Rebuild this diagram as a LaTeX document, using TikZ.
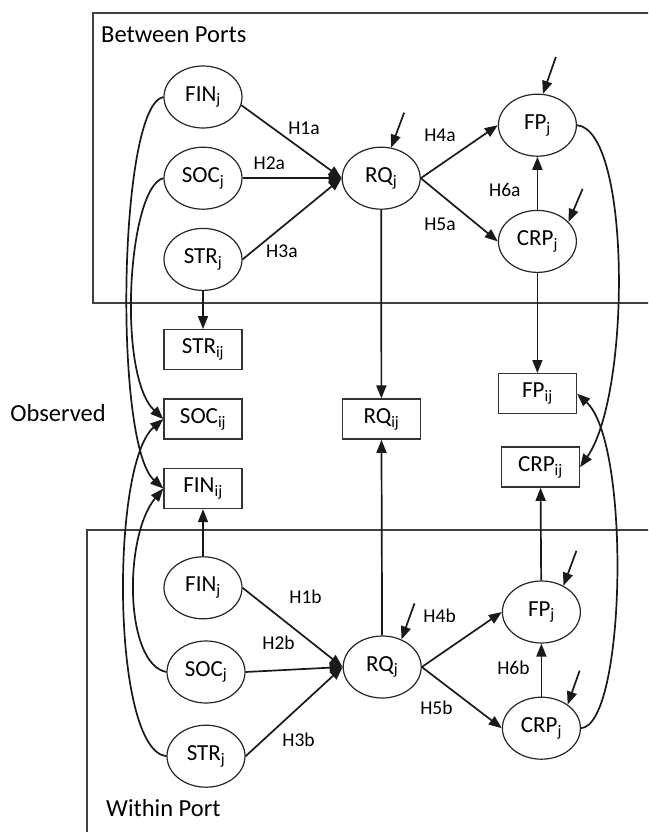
\documentclass[tikz,border=0pt]{standalone}
\usepackage{fontspec}
\setmainfont{Carlito}
\usetikzlibrary{positioning,arrows.meta,shapes.geometric}
\tikzset{
  lv/.style={ellipse, draw=black!85, line width=1.2pt, minimum width=78pt, minimum height=62pt,
             inner sep=0pt, font=\fontsize{23}{26}\selectfont},
  ob/.style={rectangle, draw=black!80, line width=1.4pt, minimum width=78pt, minimum height=40pt,
             inner sep=0pt, font=\fontsize{23}{26}\selectfont},
  flow/.style={-{Triangle[length=13pt,width=10pt]}, line width=1.7pt, draw=black!90},
  hlab/.style={font=\fontsize{19.5}{22}\selectfont, inner sep=2pt},
  ttl/.style={font=\fontsize{24.5}{28}\selectfont, inner sep=0pt},
  frame/.style={draw=black!75, line width=1.1pt},
}
\begin{document}
\begin{tikzpicture}[x=1pt,y=-1pt]
  \useasboundingbox (0,0) rectangle (648,832);
  \clip (0,0) rectangle (648,832);
  % frames
  \draw[frame] (93,13) rectangle (700,303);
  \draw[frame] (87,530) rectangle (700,900);
  \node[ttl, anchor=west] (tBetween) at (101,35) {Between Ports};
  \node[ttl, anchor=west] (tWithin) at (106,808) {Within Port};
  \node[ttl] (tObs) at (58,413) {Observed};
  % between ports
  \node[lv] (FINt) at (203,97) {FIN\textsubscript{j}};
  \node[lv, below=18pt of FINt] (SOCt) {SOC\textsubscript{j}};
  \node[lv, below=18pt of SOCt] (STRt) {STR\textsubscript{j}};
  \node[lv, right=99pt of SOCt] (RQt) {RQ\textsubscript{j}};
  \node[lv, right=77pt of RQt, yshift=53pt] (FPt) {FP\textsubscript{j}};
  \node[lv, below=53pt of FPt] (CRPt) {CRP\textsubscript{j}};
  % observed
  \node[ob, below=38pt of STRt] (STRij) {STR\textsubscript{ij}};
  \node[ob, below=28pt of STRij] (SOCij) {SOC\textsubscript{ij}};
  \node[ob, below=28pt of SOCij] (FINij) {FIN\textsubscript{ij}};
  \node[ob, right=99pt of SOCij] (RQij) {RQ\textsubscript{ij}};
  \node[ob, below=100pt of CRPt] (FPij) {FP\textsubscript{ij}};
  \node[ob, below=32pt of FPij, xshift=3pt] (CRPij) {CRP\textsubscript{ij}};
  % within port
  \node[lv, below=47pt of FINij] (FINb) {FIN\textsubscript{j}};
  \node[lv, below=21pt of FINb, xshift=3pt] (SOCb) {SOC\textsubscript{j}};
  \node[lv, below=21pt of SOCb] (STRb) {STR\textsubscript{j}};
  \node[lv, right=97pt of SOCb, yshift=5pt] (RQb) {RQ\textsubscript{j}};
  \node[lv, right=80pt of RQb, yshift=55pt] (FPb) {FP\textsubscript{j}};
  \node[lv, below=53pt of FPb] (CRPb) {CRP\textsubscript{j}};
  % disturbances
  \coordinate[above right=35pt and 13pt of RQt.72] (dRQt);
  \coordinate[above right=37pt and 13pt of FPt.80] (dFPt);
  \coordinate[above right=33pt and 14pt of CRPt.32] (dCRPt);
  \coordinate[above right=36pt and 13pt of RQb.55] (dRQb);
  \coordinate[above right=35pt and 13pt of FPb.50] (dFPb);
  \coordinate[above right=34pt and 12pt of CRPb.42] (dCRPb);
  \draw[flow] (dRQt) -- (RQt.72);
  \draw[flow] (dFPt) -- (FPt.80);
  \draw[flow] (dCRPt) -- (CRPt.32);
  \draw[flow] (dRQb) -- (RQb.55);
  \draw[flow] (dFPb) -- (FPb.50);
  \draw[flow] (dCRPb) -- (CRPb.42);
  % paths between ports
  \draw[flow] (FINt.-12) -- node[hlab, pos=0.44, anchor=south west] (lH1a) {H1a} (RQt.west);
  \draw[flow] (SOCt.east) -- node[hlab, pos=0.27, anchor=south, yshift=6pt] (lH2a) {H2a} (RQt.west);
  \draw[flow] (STRt.east) -- node[hlab, pos=0.21, anchor=north west] (lH3a) {H3a} (RQt.west);
  \draw[flow] (RQt.east) -- node[hlab, pos=0.49, anchor=south east, yshift=8pt] (lH4a) {H4a} (FPt.west);
  \draw[flow] (RQt.east) -- node[hlab, pos=0.49, anchor=north east, yshift=-6pt] (lH5a) {H5a} (CRPt.west);
  \draw[flow] (CRPt) -- node[hlab, pos=0.38, anchor=east, xshift=-14pt] (lH6a) {H6a} (FPt);
  % paths within port
  \draw[flow] (FINb.east) -- node[hlab, pos=0.44, anchor=south west, yshift=16pt] (lH1b) {H1b} (RQb.west);
  \draw[flow] (SOCb.east) -- node[hlab, pos=0.34, anchor=south, yshift=18pt] (lH2b) {H2b} (RQb.west);
  \draw[flow] (STRb.east) -- node[hlab, pos=0.35, anchor=north west, yshift=-5pt] (lH3b) {H3b} (RQb.west);
  \draw[flow] (RQb.east) -- node[hlab, pos=0.46, anchor=south east, yshift=16pt] (lH4b) {H4b} (FPb.west);
  \draw[flow] (RQb.east) -- node[hlab, pos=0.42, anchor=north east, yshift=-5pt] (lH5b) {H5b} (CRPb.west);
  \draw[flow] (CRPb) -- node[hlab, pos=0.55, anchor=east, xshift=-9pt] (lH6b) {H6b} (FPb);
  % measurement
  \draw[flow] (STRt) -- (STRij);
  \draw[flow] (RQt) -- (RQij);
  \draw[flow] (CRPt) -- (FPij);
  \draw[flow] (FINb) -- (FINij);
  \draw[flow] (RQb) -- (RQij);
  \draw[flow] (FPb) -- (CRPij);
  \draw[flow] (FINt.west) .. controls +(-45,8) and +(-50,-45) .. (FINij.west);
  \draw[flow] (SOCt.west) .. controls +(-35,8) and +(-47,-45) .. (SOCij.west);
  \draw[flow] (SOCb.west) .. controls +(-42,-8) and +(-40,48) .. (FINij.west);
  \draw[flow] (STRb.west) .. controls +(-55,-6) and +(-53,45) .. (SOCij.west);
  \draw[flow] (FPt.east) .. controls +(54,5) and +(51,-73) .. (CRPij.east);
  \draw[flow] (CRPb.east) .. controls +(45,-3) and +(54,49) .. (FPij.east);
\end{tikzpicture}
\end{document}
